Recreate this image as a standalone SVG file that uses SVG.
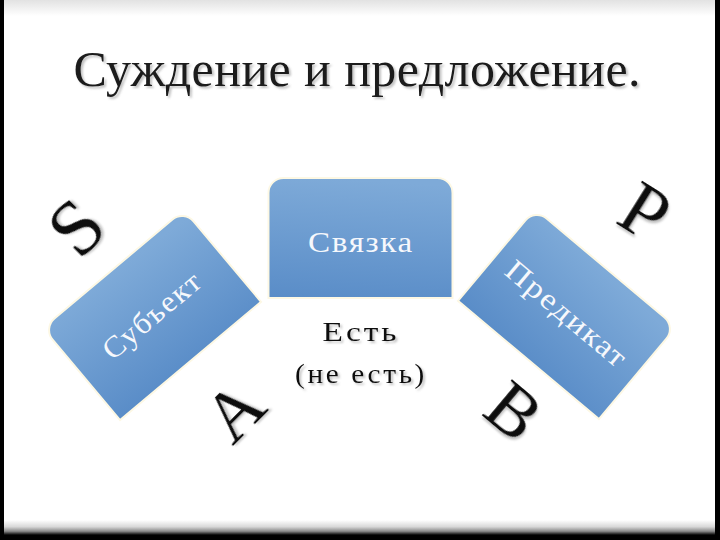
<svg xmlns="http://www.w3.org/2000/svg" width="720" height="540" viewBox="0 0 720 540">
<defs>
<linearGradient id="topg" x1="0" y1="0" x2="0" y2="1"><stop offset="0" stop-color="#e2e2e2"/><stop offset="1" stop-color="#ffffff"/></linearGradient>
<linearGradient id="botg" x1="0" y1="0" x2="0" y2="1"><stop offset="0" stop-color="#ffffff"/><stop offset="0.45" stop-color="#d8d8d8"/><stop offset="0.75" stop-color="#8a8a8a"/><stop offset="1" stop-color="#000000"/></linearGradient>
<linearGradient id="boxg" x1="0.3" y1="0" x2="0.2" y2="1"><stop offset="0" stop-color="#7eaad8"/><stop offset="1" stop-color="#5a8dc8"/></linearGradient>
<filter id="sh" x="-10%" y="-10%" width="130%" height="140%"><feDropShadow dx="2" dy="2" stdDeviation="0.8" flood-color="#777" flood-opacity="0.45"/></filter>
<path id="box" d="M -92,60 V -45 A 15 15 0 0 1 -77,-60 H 77 A 15 15 0 0 1 92,-45 V 60 Z"/>
</defs>
<style>
.bx{fill:url(#boxg);stroke:#fdf8e4;stroke-width:2}
.bt{font-family:"Liberation Serif",serif;font-size:30px;fill:#f6f8fc;text-anchor:middle;letter-spacing:1.5px}
.lt{font-family:"Liberation Serif",serif;fill:#111;text-anchor:middle;filter:url(#sh)}
.bl{font-family:"Liberation Serif",serif;font-size:28px;fill:#111;text-anchor:middle;letter-spacing:2.5px;filter:url(#sh)}
</style>
<rect x="0" y="0" width="720" height="540" fill="#000"/>
<rect x="4" y="0" width="711" height="534" fill="#fff"/>
<rect x="4" y="0" width="711" height="16" fill="url(#topg)"/>
<rect x="4" y="520" width="711" height="15" fill="url(#botg)"/>
<text x="357" y="86" font-family="Liberation Serif, serif" font-size="50" fill="#1a1a1a" text-anchor="middle" textLength="567" lengthAdjust="spacing" filter="url(#sh)">Суждение и предложение.</text>
<g id="connectors"></g>
<g id="svyazka">
<use href="#box" class="bx" transform="translate(360.5,238)"/>
<text class="bt" x="361" y="252" textLength="106" lengthAdjust="spacingAndGlyphs">Связка</text>
</g>
<g id="subject" transform="translate(152,315) rotate(-40)">
<use href="#box" class="bx"/>
<text class="bt" x="0" y="10" textLength="120" lengthAdjust="spacingAndGlyphs">Субъект</text>
</g>
<g id="predicate" transform="translate(567,314) rotate(40)">
<use href="#box" class="bx"/>
<text class="bt" x="0" y="10" textLength="150" lengthAdjust="spacingAndGlyphs">Предикат</text>
</g>
<g id="est">
<text class="bl" x="361" y="341" textLength="77" lengthAdjust="spacingAndGlyphs">Есть</text>
<text class="bl" x="361" y="383" textLength="132" lengthAdjust="spacingAndGlyphs">(не есть)</text>
</g>
<g id="letter-S"><text class="lt" font-size="78" transform="translate(76,227) rotate(-45)" y="26">S</text></g>
<g id="letter-A"><text class="lt" font-size="72" transform="translate(234,411) rotate(-45)" y="24">A</text></g>
<g id="letter-B"><text class="lt" font-size="72" transform="translate(514,411) rotate(40)" y="24">B</text></g>
<g id="letter-P"><text class="lt" font-size="76" transform="translate(645,212) rotate(32)" y="25">P</text></g>
</svg>
